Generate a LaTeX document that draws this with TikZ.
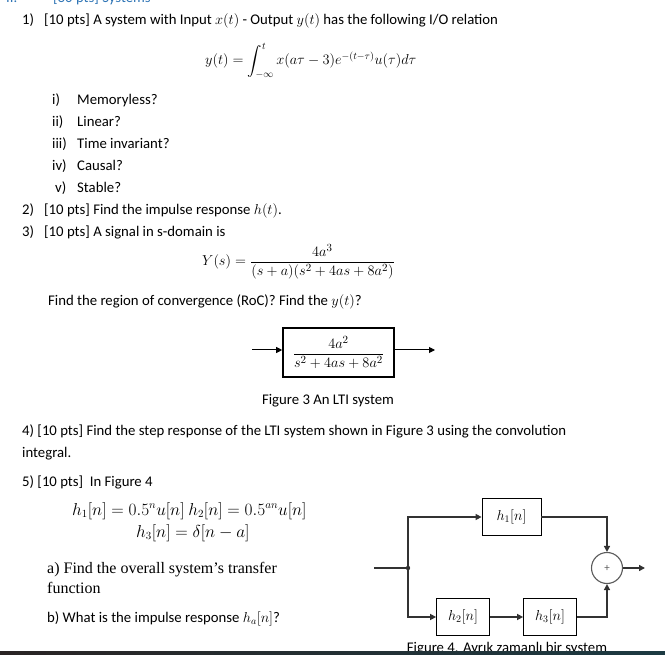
\documentclass[tikz,border=0pt]{standalone}
\usepackage{amsmath}
\usepackage{fontspec}
\setmainfont{Carlito}
\newfontfamily\serifa{Liberation Serif}
\usetikzlibrary{arrows.meta}
\definecolor{headblue}{RGB}{46,116,181}
\definecolor{linegray}{RGB}{50,50,50}
\definecolor{sumgray}{RGB}{90,90,90}
\definecolor{barleft}{RGB}{42,36,36}
\definecolor{barright}{RGB}{28,58,66}
\begin{document}
\begin{tikzpicture}[x=1pt,y=-1pt,
  font=\fontsize{14.75}{17.5}\selectfont,
  txt/.style={anchor=base west,inner sep=0pt},
  ctxt/.style={anchor=base,inner sep=0pt},
  bigmath/.style={font=\fontsize{16}{19}\selectfont},
  sertxt/.style={txt,font=\serifa\fontsize{16}{19}\selectfont},
  tfbox/.style={draw,line width=1.6pt,minimum width=111pt,minimum height=49pt,inner sep=0pt},
  hbox/.style={draw,line width=0.8pt,minimum height=37pt,inner sep=0pt},
  arr3/.style={line width=1pt,-{Triangle[length=6pt,width=6pt]}},
  flow/.style={line width=2pt,draw=linegray},
  flowarr/.style={flow,-{Triangle[length=6pt,width=6pt]}},
  sumnode/.style={circle,draw=sumgray,line width=1.1pt,minimum size=31pt,inner sep=0pt,text=sumgray}
]
\useasboundingbox (0,0) rectangle (665,655);
\clip (0,0) rectangle (665,655);
% heading (cut off at the top edge, as in the reference)
\node[txt,text=headblue] (secnum) at (6,3) {II.};
\node[txt,text=headblue] (sec) at (53,3) {[30 pts] Systems};
% question 1
\node[txt] (n1) at (22,25) {1)};
\node[txt] (q1) at (44,25) {[10 pts] A system with Input $x(t)$ - Output $y(t)$ has the following I/O relation};
\node[txt] (eq1) at (205,65) {$\displaystyle y(t) = \int_{-\infty}^{t} x(a\tau-3)e^{-(t-\tau)}u(\tau)d\tau$};
\node[txt] (r1) at (52,105) {i)};
\node[txt] (t1) at (77,105) {Memoryless?};
\node[txt] (r2) at (52,127) {ii)};
\node[txt] (t2) at (77,127) {Linear?};
\node[txt] (r3) at (52,149) {iii)};
\node[txt] (t3) at (77,149) {Time invariant?};
\node[txt] (r4) at (52,171) {iv)};
\node[txt] (t4) at (77,171) {Causal?};
\node[txt] (r5) at (55,193) {v)};
\node[txt] (t5) at (77,193) {Stable?};
% question 2, 3
\node[txt] (n2) at (22,215) {2)};
\node[txt] (q2) at (44,215) {[10 pts] Find the impulse response $h(t)$.};
\node[txt] (n3) at (22,237) {3)};
\node[txt] (q3) at (44,237) {[10 pts] A signal in s-domain is};
\node[txt,font=\fontsize{15.8}{18}\selectfont] (eqY) at (202,266) {$Y(s) = \dfrac{4a^3}{(s+a)(s^2+4as+8a^2)}$};
\node[txt] (roc) at (48,306) {Find the region of convergence (RoC)? Find the $y(t)$?};
% figure 3
\node[tfbox,font=\fontsize{15.4}{18}\selectfont] (blk3) at (338.5,352.5) {$\dfrac{4a^2}{s^2+4as+8a^2}$};
\coordinate (in3) at (252,350);
\coordinate (out3) at (435,350);
\draw[arr3] (in3) -- (blk3.west |- in3);
\draw[arr3] (blk3.east |- out3) -- (out3);
\node[ctxt] (cap3) at (328,405) {Figure 3 An LTI system};
% question 4, 5
\node[txt] (q4) at (22,436) {4) [10 pts] Find the step response of the LTI system shown in Figure 3 using the convolution};
\node[txt] (q4b) at (22,457) {integral.};
\node[txt] (q5) at (22,486) {5) [10 pts]\ \ In Figure 4};
\node[txt,bigmath] (h12) at (72,515) {$h_1[n] = 0.5^n u[n]\ h_2[n] = 0.5^{an}u[n]$};
\node[txt,bigmath] (h3eq) at (136,537) {$h_3[n] = \delta[n-a]$};
\node[sertxt] (qa) at (47,573) {a) Find the overall system’s transfer};
\node[sertxt] (qa2) at (47,593) {function};
\node[txt] (qb) at (47,622) {b) What is the impulse response $h_a[n]$?};
% figure 4
\coordinate (inp) at (374,568);
\coordinate (split) at (408,568);
\node[hbox,minimum width=59pt] (h1) at (511.5,517) {$h_1[n]$};
\node[hbox,minimum width=53pt] (h2) at (463,617) {$h_2[n]$};
\node[hbox,minimum width=53pt] (h3) at (550,617) {$h_3[n]$};
\node[sumnode] (sum) at (607,568) {\fontsize{11}{12}\selectfont +};
\coordinate (out4) at (645,568);
\draw[flow] (inp) -- (split);
\fill[linegray] (split) circle (2.2pt);
\draw[flowarr] (split) |- (h1.west);
\draw[flowarr] (split) |- (h2.west);
\draw[flowarr] (h2.east) -- (h3.west);
\draw[flowarr] (h1.east) -| (sum.north);
\draw[flowarr] (h3.east) -| (sum.south);
\draw[flowarr] (sum.east) -- (out4);
\node[ctxt] (cap4) at (507,652) {Figure 4. Ayrık zamanlı bir system};
% bottom bar
\shade[left color=barleft,right color=barright] (0,651.5) rectangle (665,656);
\end{tikzpicture}
\end{document}
